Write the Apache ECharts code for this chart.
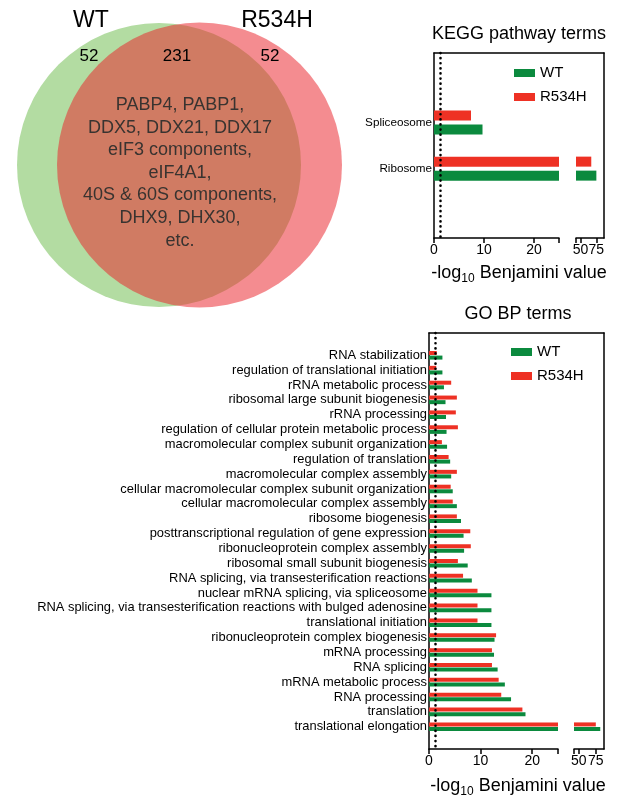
<!DOCTYPE html>
<html>
<head>
<meta charset="utf-8">
<script src="https://cdn.jsdelivr.net/npm/echarts@6.0.0/dist/echarts.min.js"></script>
<style>
html,body{margin:0;padding:0;background:#fff;}
#chart{width:623px;height:800px;}
</style>
</head>
<body>
<div id="chart"></div>
<script>
// ---------- data ----------
const vennSets = ['WT', 'R534H'];
const vennCounts = [52, 231, 52];           // WT only, shared, R534H only
const vennGenes = ['PABP4, PABP1,', 'DDX5, DDX21, DDX17', 'eIF3 components,', 'eIF4A1,',
                   '40S & 60S components,', 'DHX9, DHX30,', 'etc.'];

const seriesNames = ['WT', 'R534H'];

const keggCats = ['Spliceosome', 'Ribosome'];
const keggWT = [9.7, 75];
const keggR534H = [7.4, 67];

const goCats = ['RNA stabilization', 'regulation of translational initiation', 'rRNA metabolic process',
  'ribosomal large subunit biogenesis', 'rRNA processing', 'regulation of cellular protein metabolic process',
  'macromolecular complex subunit organization', 'regulation of translation', 'macromolecular complex assembly',
  'cellular macromolecular complex subunit organization', 'cellular macromolecular complex assembly',
  'ribosome biogenesis', 'posttranscriptional regulation of gene expression', 'ribonucleoprotein complex assembly',
  'ribosomal small subunit biogenesis', 'RNA splicing, via transesterification reactions',
  'nuclear mRNA splicing, via spliceosome',
  'RNA splicing, via transesterification reactions with bulged adenosine', 'translational initiation',
  'ribonucleoprotein complex biogenesis', 'mRNA processing', 'RNA splicing', 'mRNA metabolic process',
  'RNA processing', 'translation', 'translational elongation'];
const goWT = [2.6, 2.6, 2.9, 3.2, 3.3, 3.4, 3.5, 4.1, 4.3, 4.6, 5.4, 6.2, 6.7, 6.8, 7.5, 8.3,
  12.1, 12.1, 12.1, 12.7, 12.6, 13.3, 14.7, 15.9, 18.7, 81.5];
const goR534H = [1.5, 1.4, 4.3, 5.4, 5.2, 5.6, 2.5, 3.8, 5.4, 4.2, 4.6, 5.4, 8.0, 8.1, 5.6, 6.6,
  9.4, 9.4, 9.4, 13.0, 12.2, 12.2, 13.5, 14.0, 18.1, 75];

const lowRange = [0, 25];
const highRange = [43, 87];
const lowTickLabels = [0, 10, 20];
const highTickLabels = [50, 75];
const cutoff = 1.3;   // -log10(0.05)

// ---------- styles ----------
const FONT = '"Liberation Sans", Arial, Helvetica, sans-serif';
const GREEN = '#0b8a3e';
const RED = '#ee3124';
const colorOf = { 'WT': GREEN, 'R534H': RED };

function pad(arr, fill) { return [fill].concat(arr, [fill]); }

const chart = echarts.init(document.getElementById('chart'), null, { renderer: 'canvas' });

function buildPanel(p) {
  const grids = [p.low, p.high, p.frame];
  const xAxes = [], yAxes = [], series = [];
  const g0 = p.gi;
  const axisLine = { show: true, onZero: false, lineStyle: { color: '#000', width: 1.5 } };
  xAxes.push({
    gridIndex: g0, type: 'value', min: lowRange[0], max: lowRange[1],
    axisLine: axisLine, splitLine: { show: false },
    axisTick: { show: true, length: 5, lineStyle: { color: '#000', width: 1.5 },
      customValues: lowTickLabels.concat([lowRange[1]]) },
    axisLabel: { customValues: lowTickLabels, color: '#000', fontSize: 14, fontFamily: FONT, margin: 5 }
  });
  xAxes.push({
    gridIndex: g0 + 1, type: 'value', min: highRange[0], max: highRange[1],
    axisLine: axisLine, splitLine: { show: false },
    axisTick: { show: true, length: 5, lineStyle: { color: '#000', width: 1.5 },
      customValues: [highRange[0]].concat(highTickLabels) },
    axisLabel: { customValues: highTickLabels, color: '#000', fontSize: 14, fontFamily: FONT, margin: 5 }
  });
  xAxes.push({
    gridIndex: g0 + 2, type: 'value', position: 'top', min: 0, max: 1,
    axisLine: axisLine, axisTick: { show: false }, axisLabel: { show: false }, splitLine: { show: false }
  });
  const yData = pad(p.cats, '');
  yAxes.push({
    gridIndex: g0, type: 'category', data: yData, inverse: true,
    axisLine: axisLine, axisTick: { show: false },
    axisLabel: { interval: 0, color: '#000', fontSize: p.labelSize, fontFamily: FONT, margin: 2 }
  });
  yAxes.push({ gridIndex: g0 + 1, type: 'category', data: yData, inverse: true, show: false });
  yAxes.push({
    gridIndex: g0 + 2, type: 'value', position: 'right', min: 0, max: 1,
    axisLine: axisLine, axisTick: { show: false }, axisLabel: { show: false }, splitLine: { show: false }
  });
  const order = [['R534H', p.mut], ['WT', p.wt]];
  [0, 1].forEach(function (k) {
    order.forEach(function (o, idx) {
      const s = {
        type: 'bar', name: o[0], xAxisIndex: g0 + k, yAxisIndex: g0 + k,
        data: pad(o[1], '-'), barWidth: p.barWidth, barGap: p.barGap,
        itemStyle: { color: colorOf[o[0]] }, clip: true, animation: false
      };
      if (k === 0 && idx === 0) {
        s.markLine = {
          silent: true, symbol: 'none', label: { show: false }, animation: false,
          lineStyle: { color: '#000', type: [0.1, 5], width: 2.6, cap: 'round' },
          data: [{ xAxis: cutoff }]
        };
      }
      series.push(s);
    });
  });
  return { grids: grids, xAxes: xAxes, yAxes: yAxes, series: series };
}

const kegg = buildPanel({
  gi: 0,
  low: { left: 434, top: 53, width: 125, height: 185 },
  high: { left: 576, top: 53, width: 28, height: 185 },
  frame: { left: 434, top: 53, width: 170, height: 185 },
  cats: keggCats, wt: keggWT, mut: keggR534H, barWidth: 10, barGap: '40%', labelSize: 11.7
});
const go = buildPanel({
  gi: 3,
  low: { left: 429, top: 333, width: 129, height: 416 },
  high: { left: 574, top: 333, width: 30, height: 416 },
  frame: { left: 429, top: 333, width: 175, height: 416 },
  cats: goCats, wt: goWT, mut: goR534H, barWidth: 4, barGap: '15%', labelSize: 12.9
});

// ---------- Venn + titles (graphic) ----------
const graphics = [];
graphics.push({ type: 'circle', shape: { cx: 159, cy: 165, r: 142 }, style: { fill: '#b3dca2' }, silent: true });
graphics.push({ type: 'circle', shape: { cx: 199.5, cy: 165, r: 142.5 }, style: { fill: 'rgb(234,34,42)', opacity: 0.52 }, silent: true });
const setPos = [[91, 21], [277, 21]];
vennSets.forEach(function (t, i) {
  graphics.push({ type: 'text', x: setPos[i][0], y: setPos[i][1], silent: true,
    style: { text: t, fill: '#000', fontSize: 23, fontFamily: FONT, align: 'center', verticalAlign: 'middle' } });
});
const countPos = [[89, 56], [177, 56], [270, 56]];
vennCounts.forEach(function (c, i) {
  graphics.push({ type: 'text', x: countPos[i][0], y: countPos[i][1], silent: true,
    style: { text: String(c), fill: '#000', fontSize: 17, fontFamily: FONT, align: 'center', verticalAlign: 'middle' } });
});
vennGenes.forEach(function (line, i) {
  graphics.push({ type: 'text', x: 180, y: 105 + i * 22.6, silent: true,
    style: { text: line, fill: '#383330', fontSize: 18, fontFamily: FONT, align: 'center', verticalAlign: 'middle' } });
});
function title(txt, x, y) {
  graphics.push({ type: 'text', x: x, y: y, silent: true,
    style: { text: txt, fill: '#000', fontSize: 18, fontFamily: FONT, align: 'center', verticalAlign: 'middle' } });
}
title('KEGG pathway terms', 519, 34);
title('GO BP terms', 518, 314);
function axisTitle(x, y) {
  graphics.push({ type: 'text', x: x, y: y, silent: true,
    style: { text: '-log{sub|10} Benjamini value', fill: '#000', fontSize: 18, fontFamily: FONT,
      align: 'center', verticalAlign: 'middle', lineHeight: 24,
      rich: { sub: { fontSize: 12, fontFamily: FONT, fill: '#000', verticalAlign: 'bottom', lineHeight: 12 } } } });
}
axisTitle(519, 273);
axisTitle(518, 786);

const legendCommon = {
  orient: 'vertical', data: seriesNames, icon: 'rect', itemWidth: 21, itemHeight: 8, itemGap: 8,
  padding: 0, selectedMode: false,
  textStyle: { color: '#000', fontSize: 15, fontFamily: FONT, lineHeight: 16 }
};

chart.setOption({
  backgroundColor: '#fff',
  animation: false,
  grid: kegg.grids.concat(go.grids),
  xAxis: kegg.xAxes.concat(go.xAxes),
  yAxis: kegg.yAxes.concat(go.yAxes),
  series: kegg.series.concat(go.series),
  legend: [
    Object.assign({ left: 514, top: 65 }, legendCommon),
    Object.assign({ left: 511, top: 344 }, legendCommon)
  ],
  graphic: graphics
});
</script>
</body>
</html>
